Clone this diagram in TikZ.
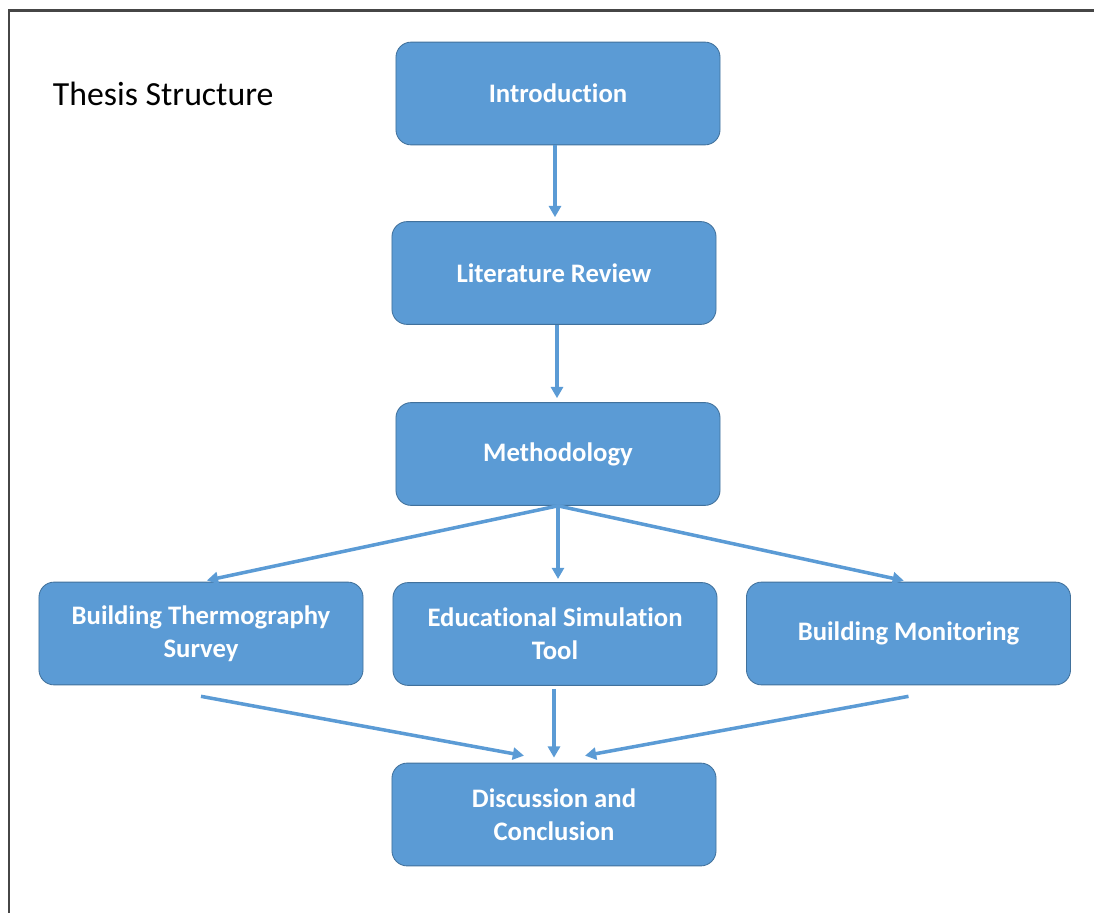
\documentclass[tikz,border=0pt]{standalone}
\usepackage{fontspec}
\setmainfont[Ligatures=NoCommon]{Carlito}
\usetikzlibrary{arrows.meta,positioning,calc}
\definecolor{boxblue}{RGB}{91,155,213}
\definecolor{boxedge}{RGB}{65,113,156}
\definecolor{framegray}{RGB}{70,70,70}

\begin{document}
\begin{tikzpicture}[x=0.025cm,y=-0.025cm,
  stagebox/.style={rectangle,rounded corners=0.38cm,draw=boxedge,line width=0.6pt,fill=boxblue,
    minimum width=8.1cm,minimum height=2.57cm,align=center,text=white,
    font=\fontsize{19}{23.5}\selectfont\bfseries},
  flow/.style={draw=boxblue,line width=2.5pt,-{Triangle[length=0.28cm,width=0.3cm]}}]

  \useasboundingbox (0,0) rectangle (1094,913);

  % Frame (top and left edge only)
  \draw[framegray,line width=1.6pt] (9,913) -- (9,10.5) -- (1094,10.5);

  % Title
  \node[anchor=west,font=\fontsize{24}{28}\selectfont] (title) at (48,94) {Thesis Structure};

  % Main chain
  \node[stagebox] (intro) at (558,93.5) {Introduction};
  \node[stagebox] (litrev) at (554,273) {Literature Review};
  \node[stagebox] (method) at (558,454) {Methodology};

  % Three strands
  \node[stagebox] (thermo) at (201,633.5) {Building Thermography\\Survey};
  \node[stagebox] (simtool) at (555,634) {Educational Simulation\\Tool};
  \node[stagebox] (monitor) at (908.5,633.5) {Building Monitoring};

  % Final stage
  \node[stagebox] (discuss) at (554,814.5) {Discussion and\\Conclusion};

  % Free ends of the merging arrows
  \coordinate (thermoout) at ($(thermo.south)+(0,11)$);
  \coordinate (simout) at ($(simtool.south)+(-1,3)$);
  \coordinate (monitorout) at ($(monitor.south)+(0,11)$);
  \coordinate (discussinl) at ($(discuss.north)+(-30,-7)$);
  \coordinate (discussinm) at ($(discuss.north)+(0,-5)$);
  \coordinate (discussinr) at ($(discuss.north)+(31,-7)$);

  % Arrows
  \draw[flow,shorten >=0.1cm] (intro.south -| 555,0) -- (litrev.north -| 555,0);
  \draw[flow,shorten >=0.1cm] (litrev.south -| 557,0) -- (method.north -| 557,0);
  \draw[flow,shorten >=0.15cm] (method.south) -- (thermo.north);
  \draw[flow,shorten >=0.08cm] (method.south) -- (simtool.north -| method.south);
  \draw[flow,shorten >=0.12cm] (method.south) -- (monitor.north);
  \draw[flow] (thermoout) -- (discussinl);
  \draw[flow] (simout) -- (discussinm);
  \draw[flow] (monitorout) -- (discussinr);
\end{tikzpicture}
\end{document}
